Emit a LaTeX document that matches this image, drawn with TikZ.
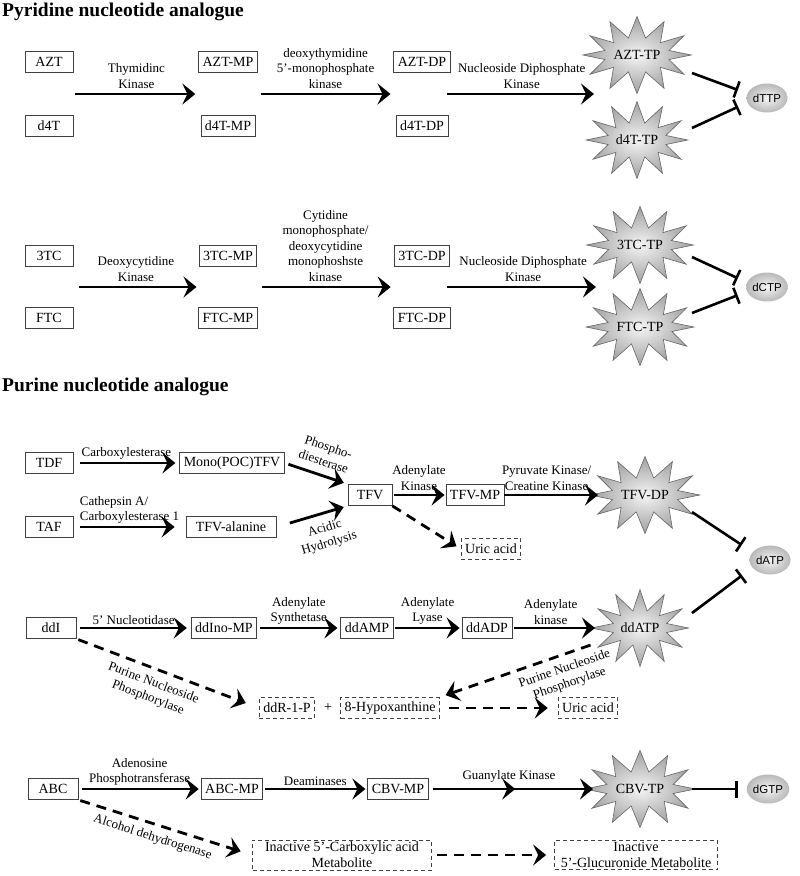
\documentclass[tikz,border=0pt]{standalone}
\usepackage{fontspec}
\setmainfont{Liberation Serif}
\newfontfamily\poolfont{Liberation Sans}
\usetikzlibrary{calc,positioning,arrows.meta,shapes.geometric,shapes.symbols,decorations.markings}

\begin{document}
\begin{tikzpicture}[x=1pt,y=-1pt,
  box/.style={draw=black!75,line width=0.8pt,minimum height=21pt,minimum width=48pt,inner xsep=4pt,inner ysep=2pt,font=\fontsize{14}{16}\selectfont},
  dbox/.style={box,dash pattern=on 4pt off 3pt},
  burst/.style={starburst,starburst points=12,starburst point height=21pt,random starburst=0,draw=black!60,line width=0.6pt,inner color=gray!8,outer color=gray!75,minimum width=94pt,minimum height=77pt,inner sep=0pt,font=\fontsize{14}{16}\selectfont},
  pool/.style={ellipse,inner color=gray!8,outer color=gray!55,minimum width=41pt,minimum height=29pt,inner sep=0pt,font=\poolfont\fontsize{11.5}{13}\selectfont},
  arr/.style={-{Stealth[length=13pt,width=21pt,inset=5pt]},line width=2.8pt},
  rarr/.style={{Stealth[length=13pt,width=21pt,inset=5pt]}-,line width=2.8pt},
  darr/.style={arr,dash pattern=on 10pt off 7pt},
  rdarr/.style={rarr,dash pattern=on 10pt off 7pt},
  inh/.style={-{Bar[width=17pt,line width=2.6pt]},line width=2.6pt},
  enz/.style={font=\fontsize{13}{15.5}\selectfont,align=center,inner sep=1pt},
  ttl/.style={font=\bfseries\fontsize{19.5}{22}\selectfont,anchor=base west,inner sep=0pt}]
\fill[white] (0,0) rectangle (800,876);
\useasboundingbox (0,0) rectangle (800,876);

\node[ttl] (t1) at (2,16) {Pyridine nucleotide analogue};

\node[box] (azt) at (49,62) {AZT};
\node[box] (dft) at (49,126) {d4T};
\node[box] (aztmp) at (228,62) {AZT-MP};
\node[box] (dftmp) at (228,126) {d4T-MP};
\node[box] (aztdp) at (422,62) {AZT-DP};
\node[box] (dftdp) at (422,126) {d4T-DP};
\node[burst] (azttp) at (637,55) {AZT-TP};
\node[burst] (dfttp) at (637,140) {d4T-TP};
\node[pool] (dttp) at (767,98) {dTTP};
\coordinate (in1) at (594,94);

\draw[arr,shorten <=2pt,shorten >=4pt] ($(azt.east)!.5!(dft.east)$) -- ($(aztmp.west)!.5!(dftmp.west)$)
  node[midway,above=3pt,enz] {Thymidinc\\Kinase};
\draw[arr,shorten <=4pt,shorten >=4pt] ($(aztmp.east)!.5!(dftmp.east)$) -- ($(aztdp.west)!.5!(dftdp.west)$)
  node[midway,above=3pt,enz] {deoxythymidine\\5’-monophosphate\\kinase};
\draw[arr,shorten <=-2pt] ($(aztdp.east)!.5!(dftdp.east)$) -- (in1)
  node[midway,above=3pt,enz] {Nucleoside Diphosphate\\Kinase};
\draw[inh,shorten >=9pt] ([xshift=55pt,yshift=-18pt]azttp.center) -- ([yshift=5pt]dttp.west);
\draw[inh,shorten >=9pt] ([xshift=55pt,yshift=12pt]dfttp.center) -- ([yshift=-5pt]dttp.west);

\node[box] (tc3) at (49,256) {3TC};
\node[box] (ftc) at (49,318) {FTC};
\node[box] (tc3mp) at (228,256) {3TC-MP};
\node[box] (ftcmp) at (228,318) {FTC-MP};
\node[box] (tc3dp) at (422,256) {3TC-DP};
\node[box] (ftcdp) at (422,318) {FTC-DP};
\node[burst] (tc3tp) at (640,245) {3TC-TP};
\node[burst] (ftctp) at (640,327) {FTC-TP};
\node[pool] (dctp) at (767,287) {dCTP};
\coordinate (in2) at (596,287);

\draw[arr,shorten <=6pt,shorten >=2pt] ($(tc3.east)!.5!(ftc.east)$) -- ($(tc3mp.west)!.5!(ftcmp.west)$)
  node[midway,above=3pt,enz] {Deoxycytidine\\Kinase};
\draw[arr,shorten <=5pt,shorten >=3pt] ($(tc3mp.east)!.5!(ftcmp.east)$) -- ($(tc3dp.west)!.5!(ftcdp.west)$)
  node[midway,above=3pt,enz] {Cytidine\\monophosphate/\\deoxycytidine\\monophoshste\\kinase};
\draw[arr,shorten <=-3pt] ($(tc3dp.east)!.5!(ftcdp.east)$) -- (in2)
  node[midway,above=3pt,enz] {Nucleoside Diphosphate\\Kinase};
\draw[inh,shorten >=9pt] ([xshift=52pt,yshift=-12pt]tc3tp.center) -- ([yshift=5pt]dctp.west);
\draw[inh,shorten >=9pt] ([xshift=52pt,yshift=14pt]ftctp.center) -- ([yshift=-5pt]dctp.west);

\node[ttl] (t2) at (2,391) {Purine nucleotide analogue};

\node[box] (tdf) at (49,463) {TDF};
\node[box] (taf) at (49,527) {TAF};
\node[box] (mono) at (232,463) {Mono(POC)TFV};
\node[box,minimum width=90pt] (tfvala) at (231,527) {TFV-alanine};
\node[box,minimum width=44pt] (tfv) at (370,495) {TFV};
\node[box] (tfvmp) at (475,495) {TFV-MP};
\node[burst] (tfvdp) at (645,495) {TFV-DP};
\node[dbox] (uric1) at (491,549) {Uric acid};
\node[pool] (datp) at (770,560) {dATP};

\draw[arr,shorten <=7pt,shorten >=4pt] (tdf) -- (mono)
  node[midway,above=1pt,enz] {Carboxylesterase};
\draw[arr,shorten <=7pt,shorten >=11pt] (taf) -- (tfvala)
  node[midway,above=1pt,enz,align=left] {Cathepsin A/\\Carboxylesterase 1};
\draw[arr,shorten <=4pt,shorten >=4pt] (mono.east) -- (tfv.north west)
  node[pos=.55,sloped,above=7pt,enz] {Phospho-\\diesterase};
\draw[arr,shorten <=14pt,shorten >=4pt] (tfvala.east) -- (tfv.south west)
  node[pos=.62,sloped,below=7pt,enz] {Acidic\\Hydrolysis};
\draw[arr,shorten <=2pt,shorten >=1pt] (tfv) -- (tfvmp)
  node[midway,above=2pt,enz] {Adenylate\\Kinase};
\draw[arr,shorten >=47pt] (tfvmp.east) -- (tfvdp.center)
  node[pos=.3,above=2pt,enz] {Pyruvate Kinase/\\Creatine Kinase};
\draw[darr,shorten >=5pt] (tfv.south east) -- (uric1.west);
\draw[inh,shorten >=9pt] ([xshift=47pt,yshift=-17pt]tfvdp.center) -- ([yshift=10pt]datp.west);

\node[box,minimum width=50pt] (ddi) at (51,628) {ddI};
\node[box] (ddino) at (224,628) {ddIno-MP};
\node[box] (ddamp) at (367,628) {ddAMP};
\node[box] (ddadp) at (487,628) {ddADP};
\node[burst] (ddatp) at (640,628) {ddATP};
\node[dbox] (ddr) at (287,708) {ddR-1-P};
\node[font=\fontsize{14}{16}\selectfont] (plus) at (328,708) {+};
\node[dbox] (hypox) at (390,708) {8-Hypoxanthine};
\node[dbox] (uric2) at (588,708) {Uric acid};

\draw[arr,shorten <=4pt,shorten >=4pt] (ddi) -- (ddino)
  node[midway,above=1pt,enz] {5’ Nucleotidase};
\draw[arr,shorten <=3pt,shorten >=3pt] (ddino) -- (ddamp)
  node[midway,above=1pt,enz] {Adenylate\\Synthetase};
\draw[arr,shorten <=1pt,shorten >=2pt] (ddamp) -- (ddadp)
  node[midway,above=1pt,enz] {Adenylate\\Lyase};
\draw[arr,shorten <=2pt,shorten >=45pt] (ddadp.east) -- (ddatp.center)
  node[pos=.3,above=1pt,enz] {Adenylate\\kinase};
\draw[darr,shorten <=2pt,shorten >=14pt] (ddi.south east) -- (ddr.west)
  node[pos=.45,sloped,below=6pt,enz] {Purine Nucleoside\\Phosphorylase};
\draw[rdarr,shorten >=50pt,shorten <=6pt] (hypox.north east) -- (ddatp.center)
  node[pos=.6,sloped,below=6pt,enz] {Purine Nucleoside\\Phosphorylase};
\draw[darr,shorten <=9pt,shorten >=10pt] (hypox) -- (uric2);
\draw[inh,shorten >=9pt] ([xshift=52pt,yshift=15pt]ddatp.center) -- ([yshift=-10pt]datp.west);

\node[box,minimum width=50pt] (abc) at (53,789) {ABC};
\node[box] (abcmp) at (232,789) {ABC-MP};
\node[box] (cbvmp) at (398,789) {CBV-MP};
\node[burst] (cbvtp) at (640,789) {CBV-TP};
\node[pool] (dgtp) at (768,789) {dGTP};
\node[dbox,align=center,minimum width=179pt] (carb) at (342,855) {Inactive 5’-Carboxylic acid\\Metabolite};
\node[dbox,align=center,minimum width=163pt] (gluc) at (636,855) {Inactive\\5’-Glucuronide Metabolite};

\draw[arr,shorten <=4pt,shorten >=2pt] (abc) -- (abcmp)
  node[midway,above=1pt,enz] {Adenosine\\Phosphotransferase};
\draw[arr,shorten <=2pt,shorten >=2pt] (abcmp) -- (cbvmp)
  node[midway,above=1pt,enz] {Deaminases};
\draw[arr,shorten <=4pt,shorten >=47pt,postaction={decorate},
  decoration={markings,mark=at position .41 with {\arrow{Stealth[length=13pt,width=21pt,inset=5pt]}}}]
  (cbvmp.east) -- (cbvtp.center)
  node[pos=.38,above=4pt,enz] {Guanylate Kinase};
\draw[inh,shorten >=9pt] ([xshift=52pt]cbvtp.center) -- (dgtp.west);
\draw[darr,shorten <=2pt,shorten >=12pt] (abc.south east) -- (carb.west)
  node[pos=.45,sloped,below=5pt,enz] {Alcohol dehydrogenase};
\draw[darr,shorten <=5pt,shorten >=8pt] (carb) -- (gluc);
\end{tikzpicture}
\end{document}
